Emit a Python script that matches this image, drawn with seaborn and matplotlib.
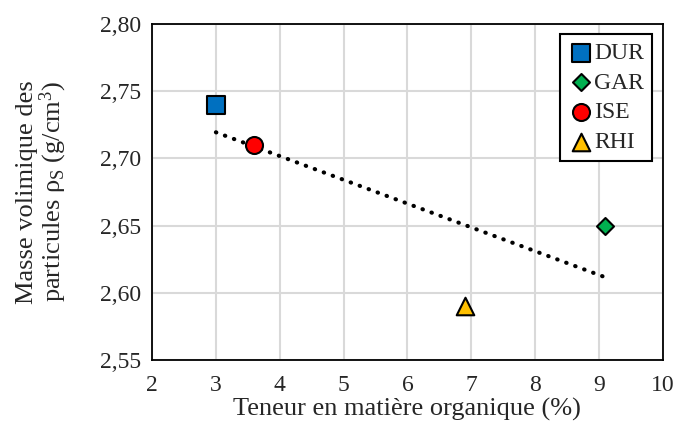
import pandas as pd
import seaborn as sns
import matplotlib.pyplot as plt
from matplotlib.ticker import MultipleLocator, FuncFormatter

# Données
samples = ['DUR', 'GAR', 'ISE', 'RHI']
organic = [3.0, 9.1, 3.6, 6.9]
density = [2.74, 2.65, 2.71, 2.59]
colors = ['#0070C0', '#00B050', '#FF0000', '#FFC000']
markers = ['s', 'D', 'o', '^']
sizes = [150, 75, 150, 160]

df = pd.DataFrame({'sample': samples, 'mo': organic, 'rho': density})

sns.set_style('white')
plt.rcParams['font.family'] = ['Liberation Serif', 'DejaVu Serif']
plt.rcParams['mathtext.fontset'] = 'custom'
plt.rcParams['mathtext.rm'] = 'Liberation Serif'
plt.rcParams['mathtext.it'] = 'Liberation Serif'

fig = plt.figure(figsize=(6.79, 4.26), dpi=100)
ax = fig.add_axes([0.224, 0.155, 0.752, 0.789])

# Courbe de tendance linéaire
sns.regplot(data=df, x='mo', y='rho', ci=None, scatter=False, ax=ax,
            line_kws={'color': 'black', 'linestyle': (0, (0.1, 2.2)), 'linewidth': 3.0,
                      'dash_capstyle': 'round'})

for s, c, m, sz in zip(samples, colors, markers, sizes):
    sns.scatterplot(data=df[df['sample'] == s], x='mo', y='rho', color=c, marker=m,
                    s=sz, edgecolor='black', linewidth=1.5, label=s, ax=ax, zorder=5)

ax.set_xlim(2, 10)
ax.set_ylim(2.55, 2.80)
ax.xaxis.set_major_locator(MultipleLocator(1))
ax.xaxis.set_minor_locator(MultipleLocator(0.5))
ax.yaxis.set_major_locator(MultipleLocator(0.05))
ax.yaxis.set_minor_locator(MultipleLocator(0.01))
ax.yaxis.set_major_formatter(FuncFormatter(lambda v, p: f'{v:.2f}'.replace('.', ',')))
ax.xaxis.set_major_formatter(FuncFormatter(lambda v, p: f'{v:.0f}'))
ax.tick_params(which='major', direction='inout', length=8, width=1.3, labelsize=17, color='black')
ax.tick_params(which='minor', direction='inout', length=4, width=1.3, color='black')
ax.tick_params(axis='x', pad=7)
ax.tick_params(axis='y', pad=4)
ax.grid(True, which='major', color='#D9D9D9', linewidth=1.5)
ax.set_axisbelow(True)
for sp in ax.spines.values():
    sp.set_linewidth(1.3)
    sp.set_color('black')

ax.set_xlabel('Teneur en matière organique (%)', fontsize=19, labelpad=1)
ax.set_ylabel('Masse volimique des\nparticules ρ$_\\mathrm{S}$ (g/cm$^3$)', fontsize=19, labelpad=22,
              linespacing=1.0)

leg = ax.legend(loc='upper right', bbox_to_anchor=(0.98, 0.97), fontsize=17, frameon=True,
                fancybox=False, edgecolor='black', framealpha=1, handletextpad=0.0,
                borderpad=0.35, labelspacing=0.35, handlelength=1.1, borderaxespad=0)
leg.get_frame().set_linewidth(1.5)

plt.savefig('out.png', dpi=100)
